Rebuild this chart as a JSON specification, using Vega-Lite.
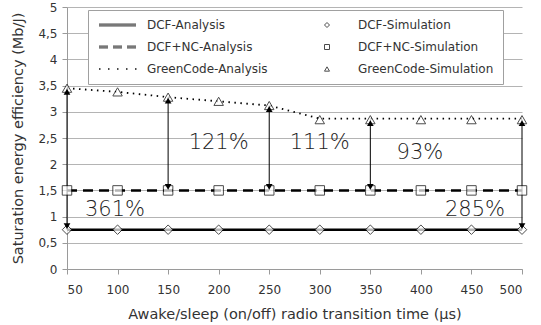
{
  "$schema": "https://vega.github.io/schema/vega-lite/v6.json",
  "width": 455,
  "height": 262,
  "autosize": {"type": "none"},
  "padding": {"left": 67, "top": 7, "right": 19, "bottom": 56},
  "background": "white",
  "config": {
    "view": {"stroke": null},
    "font": "DejaVu Sans",
    "axis": {"labelFont": "DejaVu Sans", "titleFont": "DejaVu Sans", "labelColor": "#333", "titleColor": "#333", "titleFontWeight": "normal", "labelFontSize": 12, "titleFontSize": 14.5, "domainColor": "#9a9a9a", "tickColor": "#9a9a9a", "gridColor": "#b4b4b4", "tickSize": 5}
  },
  "datasets": {
    "analysis": [
      {"series": "DCF-Analysis", "x": 50, "y": 0.75}, {"series": "DCF-Analysis", "x": 100, "y": 0.75}, {"series": "DCF-Analysis", "x": 150, "y": 0.75}, {"series": "DCF-Analysis", "x": 200, "y": 0.75}, {"series": "DCF-Analysis", "x": 250, "y": 0.75}, {"series": "DCF-Analysis", "x": 300, "y": 0.75}, {"series": "DCF-Analysis", "x": 350, "y": 0.75}, {"series": "DCF-Analysis", "x": 400, "y": 0.75}, {"series": "DCF-Analysis", "x": 450, "y": 0.75}, {"series": "DCF-Analysis", "x": 500, "y": 0.75},
      {"series": "DCF+NC-Analysis", "x": 50, "y": 1.5}, {"series": "DCF+NC-Analysis", "x": 100, "y": 1.5}, {"series": "DCF+NC-Analysis", "x": 150, "y": 1.5}, {"series": "DCF+NC-Analysis", "x": 200, "y": 1.5}, {"series": "DCF+NC-Analysis", "x": 250, "y": 1.5}, {"series": "DCF+NC-Analysis", "x": 300, "y": 1.5}, {"series": "DCF+NC-Analysis", "x": 350, "y": 1.5}, {"series": "DCF+NC-Analysis", "x": 400, "y": 1.5}, {"series": "DCF+NC-Analysis", "x": 450, "y": 1.5}, {"series": "DCF+NC-Analysis", "x": 500, "y": 1.5},
      {"series": "GreenCode-Analysis", "x": 50, "y": 3.45}, {"series": "GreenCode-Analysis", "x": 100, "y": 3.38}, {"series": "GreenCode-Analysis", "x": 150, "y": 3.28}, {"series": "GreenCode-Analysis", "x": 200, "y": 3.2}, {"series": "GreenCode-Analysis", "x": 250, "y": 3.12}, {"series": "GreenCode-Analysis", "x": 300, "y": 2.87}, {"series": "GreenCode-Analysis", "x": 350, "y": 2.87}, {"series": "GreenCode-Analysis", "x": 400, "y": 2.87}, {"series": "GreenCode-Analysis", "x": 450, "y": 2.87}, {"series": "GreenCode-Analysis", "x": 500, "y": 2.87}
    ],
    "simulation": [
      {"series": "DCF-Simulation", "x": 50, "y": 0.75}, {"series": "DCF-Simulation", "x": 100, "y": 0.75}, {"series": "DCF-Simulation", "x": 150, "y": 0.75}, {"series": "DCF-Simulation", "x": 200, "y": 0.75}, {"series": "DCF-Simulation", "x": 250, "y": 0.75}, {"series": "DCF-Simulation", "x": 300, "y": 0.75}, {"series": "DCF-Simulation", "x": 350, "y": 0.75}, {"series": "DCF-Simulation", "x": 400, "y": 0.75}, {"series": "DCF-Simulation", "x": 450, "y": 0.75}, {"series": "DCF-Simulation", "x": 500, "y": 0.75},
      {"series": "DCF+NC-Simulation", "x": 50, "y": 1.5}, {"series": "DCF+NC-Simulation", "x": 100, "y": 1.5}, {"series": "DCF+NC-Simulation", "x": 150, "y": 1.5}, {"series": "DCF+NC-Simulation", "x": 200, "y": 1.5}, {"series": "DCF+NC-Simulation", "x": 250, "y": 1.5}, {"series": "DCF+NC-Simulation", "x": 300, "y": 1.5}, {"series": "DCF+NC-Simulation", "x": 350, "y": 1.5}, {"series": "DCF+NC-Simulation", "x": 400, "y": 1.5}, {"series": "DCF+NC-Simulation", "x": 450, "y": 1.5}, {"series": "DCF+NC-Simulation", "x": 500, "y": 1.5},
      {"series": "GreenCode-Simulation", "x": 50, "y": 3.45}, {"series": "GreenCode-Simulation", "x": 100, "y": 3.38}, {"series": "GreenCode-Simulation", "x": 150, "y": 3.28}, {"series": "GreenCode-Simulation", "x": 200, "y": 3.2}, {"series": "GreenCode-Simulation", "x": 250, "y": 3.12}, {"series": "GreenCode-Simulation", "x": 300, "y": 2.85}, {"series": "GreenCode-Simulation", "x": 350, "y": 2.85}, {"series": "GreenCode-Simulation", "x": 400, "y": 2.85}, {"series": "GreenCode-Simulation", "x": 450, "y": 2.85}, {"series": "GreenCode-Simulation", "x": 500, "y": 2.85}
    ],
    "arrows": [
      {"x": 50, "top": 3.45, "bottom": 0.75},
      {"x": 150, "top": 3.28, "bottom": 1.5},
      {"x": 250, "top": 3.12, "bottom": 1.5},
      {"x": 350, "top": 2.85, "bottom": 1.5},
      {"x": 500, "top": 2.85, "bottom": 0.75}
    ],
    "labels": [
      {"x": 200, "y": 2.41, "text": "121%"},
      {"x": 300, "y": 2.41, "text": "111%"},
      {"x": 399, "y": 2.22, "text": "93%"},
      {"x": 97.5, "y": 1.13, "text": "361%"},
      {"x": 453.5, "y": 1.13, "text": "285%"}
    ]
  },
  "encoding": {
    "x": {"field": "x", "type": "quantitative", "scale": {"domain": [50, 500], "nice": false, "zero": false},
      "axis": {"values": [50, 100, 150, 200, 250, 300, 350, 400, 450, 500], "grid": false, "title": "Awake/sleep (on/off) radio transition time (µs)", "titlePadding": 12, "labelPadding": 10}}
  },
  "layer": [
    {
      "data": {"name": "analysis"},
      "transform": [{"filter": {"field": "series", "oneOf": ["DCF-Analysis", "DCF+NC-Analysis"]}}],
      "mark": {"type": "line", "color": "black", "strokeWidth": 2.5},
      "encoding": {
        "y": {"field": "y", "type": "quantitative", "scale": {"domain": [0, 5], "nice": false},
          "axis": {"values": [0, 0.5, 1, 1.5, 2, 2.5, 3, 3.5, 4, 4.5, 5], "labelOverlap": false, "grid": true, "title": "Saturation energy efficiency (Mb/J)", "labelExpr": "replace(format(datum.value, '.1~f'), '.', ',')", "titlePadding": 12, "labelPadding": 5}},
        "detail": {"field": "series"},
        "strokeDash": {"field": "series", "type": "nominal", "scale": {"domain": ["DCF-Analysis", "DCF+NC-Analysis"], "range": [[1, 0], [10, 6]]}, "legend": null}
      }
    },
    {
      "data": {"name": "analysis"},
      "transform": [{"filter": {"field": "series", "equal": "GreenCode-Analysis"}}],
      "mark": {"type": "line", "color": "black", "strokeWidth": 1.8, "strokeDash": [1.5, 4.5]},
      "encoding": {
        "y": {"field": "y", "type": "quantitative", "axis": {"values": [0, 0.5, 1, 1.5, 2, 2.5, 3, 3.5, 4, 4.5, 5], "labelOverlap": false, "grid": true, "title": "Saturation energy efficiency (Mb/J)", "labelExpr": "replace(format(datum.value, '.1~f'), '.', ',')", "titlePadding": 12, "labelPadding": 5}}
      }
    },
    {
      "data": {"name": "arrows"},
      "mark": {"type": "rule", "color": "black", "strokeWidth": 1},
      "encoding": {
        "y": {"field": "top", "type": "quantitative", "axis": {"values": [0, 0.5, 1, 1.5, 2, 2.5, 3, 3.5, 4, 4.5, 5], "labelOverlap": false, "grid": true, "title": "Saturation energy efficiency (Mb/J)", "labelExpr": "replace(format(datum.value, '.1~f'), '.', ',')", "titlePadding": 12, "labelPadding": 5}},
        "y2": {"field": "bottom"}
      }
    },
    {
      "data": {"name": "simulation"},
      "mark": {"type": "point", "filled": false, "fill": "white", "stroke": "black", "strokeWidth": 1, "size": 90},
      "encoding": {
        "y": {"field": "y", "type": "quantitative", "axis": {"values": [0, 0.5, 1, 1.5, 2, 2.5, 3, 3.5, 4, 4.5, 5], "labelOverlap": false, "grid": true, "title": "Saturation energy efficiency (Mb/J)", "labelExpr": "replace(format(datum.value, '.1~f'), '.', ',')", "titlePadding": 12, "labelPadding": 5}},
        "shape": {"field": "series", "type": "nominal",
          "scale": {"domain": ["DCF-Analysis", "DCF+NC-Analysis", "GreenCode-Analysis", "DCF-Simulation", "DCF+NC-Simulation", "GreenCode-Simulation"],
            "range": [
              "M-6.8,-0.4H8M-6.8,0H8M-6.8,0.4H8",
              "M-6.8,-0.4H-3.2M-6.8,0H-3.2M-6.8,0.4H-3.2M-1.2,-0.4H2.4M-1.2,0H2.4M-1.2,0.4H2.4M4.4,-0.4H8M4.4,0H8M4.4,0.4H8",
              "M-6.8,-0.2H-6.2M-6.8,0.2H-6.2M-3.2,-0.2H-2.6M-3.2,0.2H-2.6M0.4,-0.2H1M0.4,0.2H1M4,-0.2H4.6M4,0.2H4.6M7.6,-0.2H8.2M7.6,0.2H8.2",
              "diamond", "square", "triangle-up"]},
          "legend": {
            "title": null, "orient": "none", "legendX": 21, "legendY": 3, "columns": 2, "direction": "vertical",
            "fillColor": "white", "strokeColor": "#a0a0a0", "padding": 9,
            "symbolSize": 25, "symbolStrokeWidth": 1, "symbolOffset": 13,
            "labelFont": "DejaVu Sans", "labelFontSize": 12, "labelColor": "#333", "labelOffset": 25,
            "rowPadding": 10, "columnPadding": 40
          }
        }
      }
    },
    {
      "data": {"name": "arrows"},
      "mark": {"type": "point", "shape": "triangle-up", "filled": true, "color": "black", "size": 45, "yOffset": 3.5, "opacity": 1},
      "encoding": {
        "y": {"field": "top", "type": "quantitative", "axis": {"values": [0, 0.5, 1, 1.5, 2, 2.5, 3, 3.5, 4, 4.5, 5], "labelOverlap": false, "grid": true, "title": "Saturation energy efficiency (Mb/J)", "labelExpr": "replace(format(datum.value, '.1~f'), '.', ',')", "titlePadding": 12, "labelPadding": 5}}
      }
    },
    {
      "data": {"name": "arrows"},
      "mark": {"type": "point", "shape": "triangle-down", "filled": true, "color": "black", "size": 45, "yOffset": -3.5, "opacity": 1},
      "encoding": {
        "y": {"field": "bottom", "type": "quantitative", "axis": {"values": [0, 0.5, 1, 1.5, 2, 2.5, 3, 3.5, 4, 4.5, 5], "labelOverlap": false, "grid": true, "title": "Saturation energy efficiency (Mb/J)", "labelExpr": "replace(format(datum.value, '.1~f'), '.', ',')", "titlePadding": 12, "labelPadding": 5}}
      }
    },
    {
      "data": {"name": "labels"},
      "mark": {"type": "text", "font": "DejaVu Sans", "fontSize": 21, "fontWeight": 300, "color": "#222", "align": "center", "baseline": "middle"},
      "encoding": {
        "y": {"field": "y", "type": "quantitative", "axis": {"values": [0, 0.5, 1, 1.5, 2, 2.5, 3, 3.5, 4, 4.5, 5], "labelOverlap": false, "grid": true, "title": "Saturation energy efficiency (Mb/J)", "labelExpr": "replace(format(datum.value, '.1~f'), '.', ',')", "titlePadding": 12, "labelPadding": 5}},
        "text": {"field": "text"}
      }
    }
  ]
}
